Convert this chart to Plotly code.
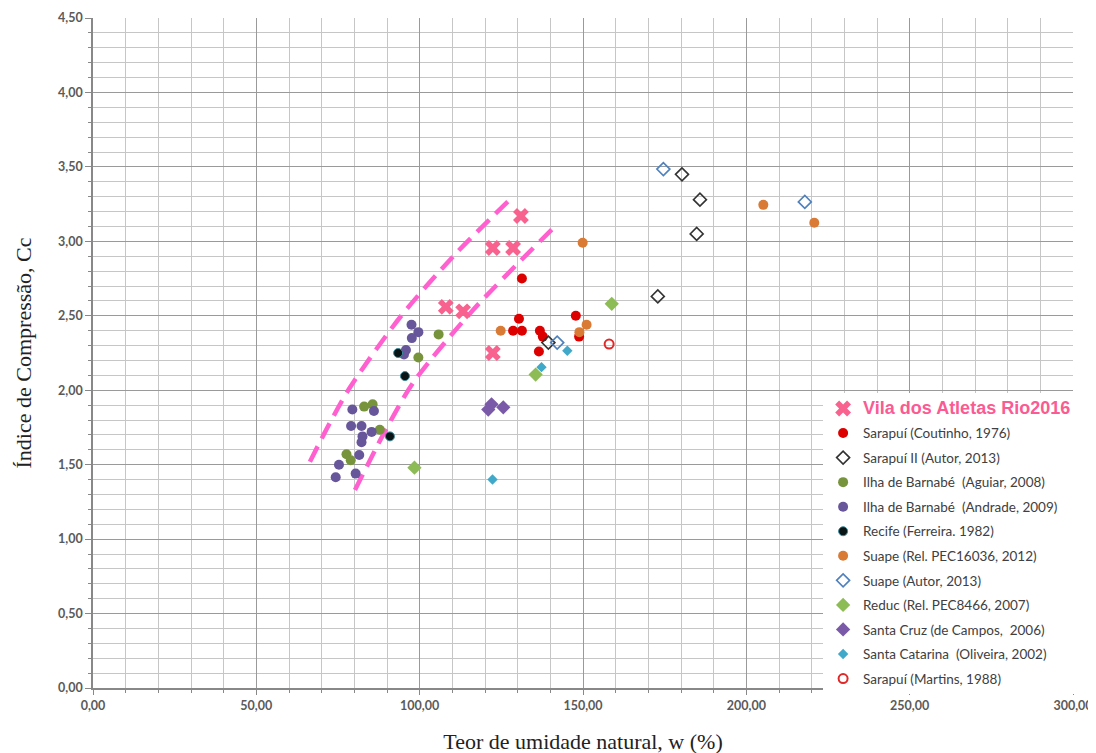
import plotly.graph_objects as go

# ---------------- data ----------------
x_tickvals = [0, 50, 100, 150, 200, 250, 300]
x_ticktext = ["0,00", "50,00", "100,00", "150,00", "200,00", "250,00", "300,00"]
y_tickvals = [0, 0.5, 1.0, 1.5, 2.0, 2.5, 3.0, 3.5, 4.0, 4.5]
y_ticktext = ["0,00", "0,50", "1,00", "1,50", "2,00", "2,50", "3,00", "3,50", "4,00", "4,50"]

vila_w = [108.0, 113.3, 122.4, 128.6, 131.0, 122.4]
vila_cc = [2.56, 2.53, 2.955, 2.955, 3.17, 2.25]

coutinho_w = [131.3, 130.4, 128.6, 131.3, 136.8, 137.7, 136.5, 147.8, 148.8]
coutinho_cc = [2.75, 2.48, 2.40, 2.40, 2.40, 2.36, 2.26, 2.50, 2.36]

sarapui2_w = [180.3, 185.8, 184.8, 172.9, 139.4]
sarapui2_cc = [3.45, 3.28, 3.05, 2.63, 2.32]

aguiar_w = [105.8, 99.6, 83.0, 85.6, 87.8, 77.6, 78.9]
aguiar_cc = [2.375, 2.22, 1.89, 1.905, 1.735, 1.57, 1.53]

andrade_w = [97.5, 99.6, 97.6, 95.8, 95.2, 79.4, 86.0, 79.0, 82.2, 85.3,
             82.5, 82.2, 81.5, 75.3, 74.3, 80.4]
andrade_cc = [2.44, 2.39, 2.35, 2.27, 2.24, 1.87, 1.86, 1.76, 1.76, 1.72,
              1.69, 1.65, 1.565, 1.50, 1.415, 1.44]

recife_w = [93.4, 95.5, 90.9]
recife_cc = [2.25, 2.095, 1.69]

suape_pec_w = [205.2, 220.8, 149.9, 124.8, 151.1, 148.9]
suape_pec_cc = [3.245, 3.125, 2.99, 2.40, 2.44, 2.39]

suape_autor_w = [174.6, 217.9, 142.1]
suape_autor_cc = [3.485, 3.265, 2.32]

reduc_w = [158.8, 135.5, 98.4]
reduc_cc = [2.58, 2.105, 1.48]

santacruz_w = [121.0, 122.0, 125.6]
santacruz_cc = [1.87, 1.905, 1.885]

santacat_w = [145.2, 137.3, 122.3]
santacat_cc = [2.265, 2.155, 1.40]

martins_w = [158.0]
martins_cc = [2.31]

# dashed envelope curves
upper_w = [66.4, 72.5, 78.7, 94.0, 110.3, 127.6]
upper_cc = [1.52, 1.78, 2.02, 2.49, 2.90, 3.28]
lower_w = [80.2, 88.8, 98.0, 116.4, 141.4]
lower_cc = [1.33, 1.70, 2.05, 2.54, 3.10]

# ---------------- figure ----------------
fig = go.Figure()

pink_dash = "#ff5fcf"
for cw, cc in [(upper_w, upper_cc), (lower_w, lower_cc)]:
    fig.add_trace(go.Scatter(x=cw, y=cc, mode="lines", showlegend=False,
                             hoverinfo="skip",
                             line=dict(color=pink_dash, width=4.5, dash="17px,9px",
                                       shape="spline", smoothing=0.8)))

series = [
    ("Sarapuí (Coutinho, 1976)", coutinho_w, coutinho_cc,
     dict(symbol="circle", size=10, color="#dd0000")),
    ("Sarapuí II (Autor, 2013)", sarapui2_w, sarapui2_cc,
     dict(symbol="diamond-open", size=10, color="#333333", line=dict(width=1.6))),
    ("Ilha de Barnabé  (Aguiar, 2008)", aguiar_w, aguiar_cc,
     dict(symbol="circle", size=10, color="#77933c")),
    ("Ilha de Barnabé  (Andrade, 2009)", andrade_w, andrade_cc,
     dict(symbol="circle", size=10, color="#67569a")),
    ("Recife (Ferreira. 1982)", recife_w, recife_cc,
     dict(symbol="circle", size=9, color="#0a1414", line=dict(color="#3a8a9a", width=1))),
    ("Suape (Rel. PEC16036, 2012)", suape_pec_w, suape_pec_cc,
     dict(symbol="circle", size=10, color="#d97a35")),
    ("Suape (Autor, 2013)", suape_autor_w, suape_autor_cc,
     dict(symbol="diamond-open", size=10, color="#4f81bd", line=dict(width=1.6))),
    ("Reduc (Rel. PEC8466, 2007)", reduc_w, reduc_cc,
     dict(symbol="diamond", size=11, color="#8dbb55")),
    ("Santa Cruz (de Campos,  2006)", santacruz_w, santacruz_cc,
     dict(symbol="diamond", size=11, color="#7a5aa8")),
    ("Santa Catarina  (Oliveira, 2002)", santacat_w, santacat_cc,
     dict(symbol="diamond", size=8, color="#40a8c8")),
    ("Sarapuí (Martins, 1988)", martins_w, martins_cc,
     dict(symbol="circle-open", size=9, color="#e02828", line=dict(width=2))),
]

for i, (name, xs, ys, mk) in enumerate(series):
    fig.add_trace(go.Scatter(x=xs, y=ys, mode="markers", name=name, marker=mk,
                             legendgroup=name, legendrank=10 + i))

fig.add_trace(go.Scatter(
    x=vila_w, y=vila_cc, mode="markers",
    name="<span style='font-size:18px;color:#fb5b93;font-family:Liberation Sans'><b>Vila dos Atletas Rio2016</b></span>",
    legendgroup="vila", legendrank=1,
    marker=dict(symbol="x", size=14, color="#f8628f", line=dict(width=0))))

grid_minor = "#c6c6c6"
grid_major = "#9a9a9a"
tickfont = dict(family="Lato, Liberation Sans, sans-serif", size=12.5, color="#5a5a5a", weight="bold")
titlefont = dict(family="Liberation Serif, Times New Roman, serif", size=22, color="#222222")

# the page adds an ~8px body offset, so margins compensate for it
fig.update_layout(
    width=1096, height=753,
    margin=dict(l=85, r=31, t=10, b=73),
    paper_bgcolor="white", plot_bgcolor="white",
    xaxis=dict(range=[0, 300], tickvals=x_tickvals, ticktext=x_ticktext,
               automargin=False,
               showgrid=True, gridcolor=grid_major, gridwidth=1,
               minor=dict(dtick=10, showgrid=True, gridcolor=grid_minor,
                          ticks="outside", ticklen=3, tickcolor="#888888"),
               ticks="outside", ticklen=5, tickcolor="#888888",
               showline=True, linecolor="#888888", linewidth=1.5,
               zeroline=False, tickfont=tickfont,
               title=dict(text="Teor de umidade natural, w (%)", font=titlefont, standoff=22)),
    yaxis=dict(range=[0, 4.5], tickvals=y_tickvals, ticktext=y_ticktext,
               automargin=False,
               showgrid=True, gridcolor=grid_major, gridwidth=1,
               minor=dict(dtick=0.1, showgrid=True, gridcolor=grid_minor,
                          ticks="outside", ticklen=3, tickcolor="#888888"),
               ticks="outside", ticklen=6, tickcolor="#888888",
               showline=True, linecolor="#888888", linewidth=1.5,
               zeroline=False, tickfont=tickfont,
               title=dict(text="Índice de Compressão, Cc", font=titlefont, standoff=20)),
    legend=dict(x=0.745, y=0.44, xanchor="left", yanchor="top",
                bgcolor="white", borderwidth=0,
                traceorder="grouped", tracegroupgap=4, itemwidth=30,
                font=dict(family="Lato, Liberation Sans, sans-serif", size=13.5, color="#404040")),
    showlegend=True,
)

fig.write_html("out.html")
